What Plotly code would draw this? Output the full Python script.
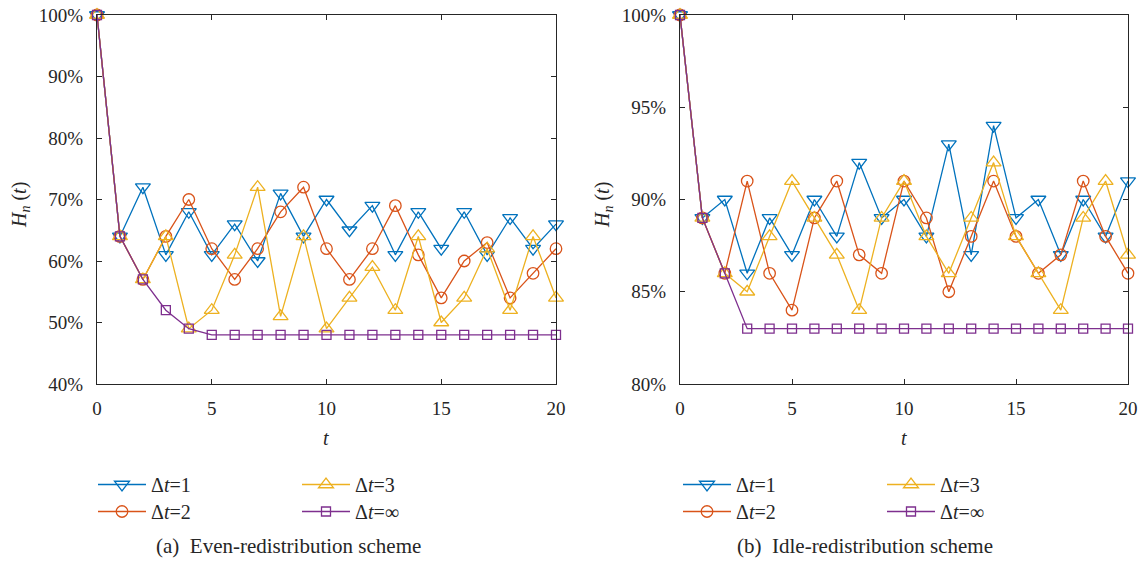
import plotly.graph_objects as go

# ---------------- data ----------------
t = list(range(0, 21))

even_dt1 = [100, 64, 72, 61, 68, 61, 66, 60, 71, 64, 70, 65, 69, 61, 68, 62, 68, 61, 67, 62, 66]
even_dt2 = [100, 64, 57, 64, 70, 62, 57, 62, 68, 72, 62, 57, 62, 69, 61, 54, 60, 63, 54, 58, 62]
even_dt3 = [100, 64, 57, 64, 49, 52, 61, 72, 51, 64, 49, 54, 59, 52, 64, 50, 54, 62, 52, 64, 54]
even_inf = [100, 64, 57, 52, 49, 48, 48, 48, 48, 48, 48, 48, 48, 48, 48, 48, 48, 48, 48, 48, 48]

idle_dt1 = [100, 89, 90, 86, 89, 87, 90, 88, 92, 89, 90, 88, 93, 87, 94, 89, 90, 87, 90, 88, 91]
idle_dt2 = [100, 89, 86, 91, 86, 84, 89, 91, 87, 86, 91, 89, 85, 88, 91, 88, 86, 87, 91, 88, 86]
idle_dt3 = [100, 89, 86, 85, 88, 91, 89, 87, 84, 89, 91, 88, 86, 89, 92, 88, 86, 84, 89, 91, 87]
idle_inf = [100, 89, 86, 83, 83, 83, 83, 83, 83, 83, 83, 83, 83, 83, 83, 83, 83, 83, 83, 83, 83]

series_names = ["Δ<i>t</i>=1", "Δ<i>t</i>=2", "Δ<i>t</i>=3", "Δ<i>t</i>=∞"]
left_ticks = [40, 50, 60, 70, 80, 90, 100]
left_tick_text = ["40%", "50%", "60%", "70%", "80%", "90%", "100%"]
right_ticks = [80, 85, 90, 95, 100]
right_tick_text = ["80%", "85%", "90%", "95%", "100%"]
x_ticks = [0, 5, 10, 15, 20]
captions = ["(a)  Even-redistribution scheme", "(b)  Idle-redistribution scheme"]

# ---------------- style ----------------
colors = ["#0072BD", "#D95319", "#EDB120", "#7E2F8E"]
symbols = ["triangle-down-open", "circle-open", "triangle-up-open", "square-open"]
sizes = [13, 11.5, 13, 9]
FONT = "Liberation Serif"
TXT = "#262626"
W, H = 1141, 561

fig = go.Figure()

def px_x(p):
    return p / W

def px_y(p):
    return 1 - p / H

left_data = [even_dt1, even_dt2, even_dt3, even_inf]
right_data = [idle_dt1, idle_dt2, idle_dt3, idle_inf]

# legend item positions (pixel coords of legend top-left)
leg_pos_left = [(93, 465), (93, 492), (297, 465), (297, 492)]
leg_pos_right = [(678, 465), (678, 492), (882, 465), (882, 492)]

legend_layouts = {}
k = 0
for panel, (data, xa, ya, lp) in enumerate([(left_data, "x", "y", leg_pos_left),
                                            (right_data, "x2", "y2", leg_pos_right)]):
    for i, ys in enumerate(data):
        k += 1
        lname = "legend" if k == 1 else f"legend{k}"
        fig.add_trace(go.Scatter(
            x=t, y=ys, mode="lines+markers", name=series_names[i],
            xaxis=xa, yaxis=ya, cliponaxis=False,
            line=dict(color=colors[i], width=1.3),
            marker=dict(symbol=symbols[i], size=sizes[i], color=colors[i],
                        line=dict(color=colors[i], width=1.3)),
            legend=lname, showlegend=True,
        ))
        legend_layouts[lname] = dict(
            x=px_x(lp[i][0]), y=px_y(lp[i][1]), xanchor="left", yanchor="top",
            bgcolor="rgba(0,0,0,0)", font=dict(family=FONT, size=20, color=TXT),
            itemwidth=48, tracegroupgap=0,
        )

axis_common = dict(
    showgrid=False, zeroline=False, showline=True, linecolor="#262626", linewidth=1.1,
    mirror="ticks", ticks="inside", ticklen=5, tickcolor="#262626",
    tickfont=dict(family=FONT, size=19, color=TXT),
)

fig.update_layout(
    width=W, height=H, margin=dict(l=0, r=0, t=0, b=0, autoexpand=False),
    paper_bgcolor="white", plot_bgcolor="white",
    xaxis=dict(domain=[px_x(97), px_x(556)], range=[0, 20], tickvals=x_ticks,
               anchor="y", ticklabelstandoff=7, **axis_common),
    yaxis=dict(domain=[px_y(384), px_y(15)], range=[40, 100], tickvals=left_ticks,
               ticktext=left_tick_text, anchor="x", ticklabelstandoff=9, **axis_common),
    xaxis2=dict(domain=[px_x(680), px_x(1128)], range=[0, 20], tickvals=x_ticks,
                anchor="y2", ticklabelstandoff=7, **axis_common),
    yaxis2=dict(domain=[px_y(384), px_y(15)], range=[80, 100], tickvals=right_ticks,
                ticktext=right_tick_text, anchor="x2", ticklabelstandoff=9, **axis_common),
    **legend_layouts,
)

ann = []
for cx, ylab_x, capx, cap in [(326, 20, 288, captions[0]), (904, 603, 865, captions[1])]:
    ann.append(dict(text="<i>t</i>", x=px_x(cx), y=px_y(438), xref="paper", yref="paper",
                    showarrow=False, font=dict(family=FONT, size=20, color=TXT),
                    xanchor="center", yanchor="middle"))
    ann.append(dict(text="<i>H<sub>n</sub></i> (<i>t</i>)", x=px_x(ylab_x), y=px_y(205),
                    xref="paper", yref="paper", showarrow=False, textangle=-90,
                    font=dict(family=FONT, size=20, color=TXT),
                    xanchor="center", yanchor="middle"))
    ann.append(dict(text=cap, x=px_x(capx), y=px_y(546),
                    xref="paper", yref="paper",
                    showarrow=False, font=dict(family=FONT, size=21, color=TXT),
                    xanchor="center", yanchor="middle"))
fig.update_layout(annotations=ann)

fig.write_html("out.html")
